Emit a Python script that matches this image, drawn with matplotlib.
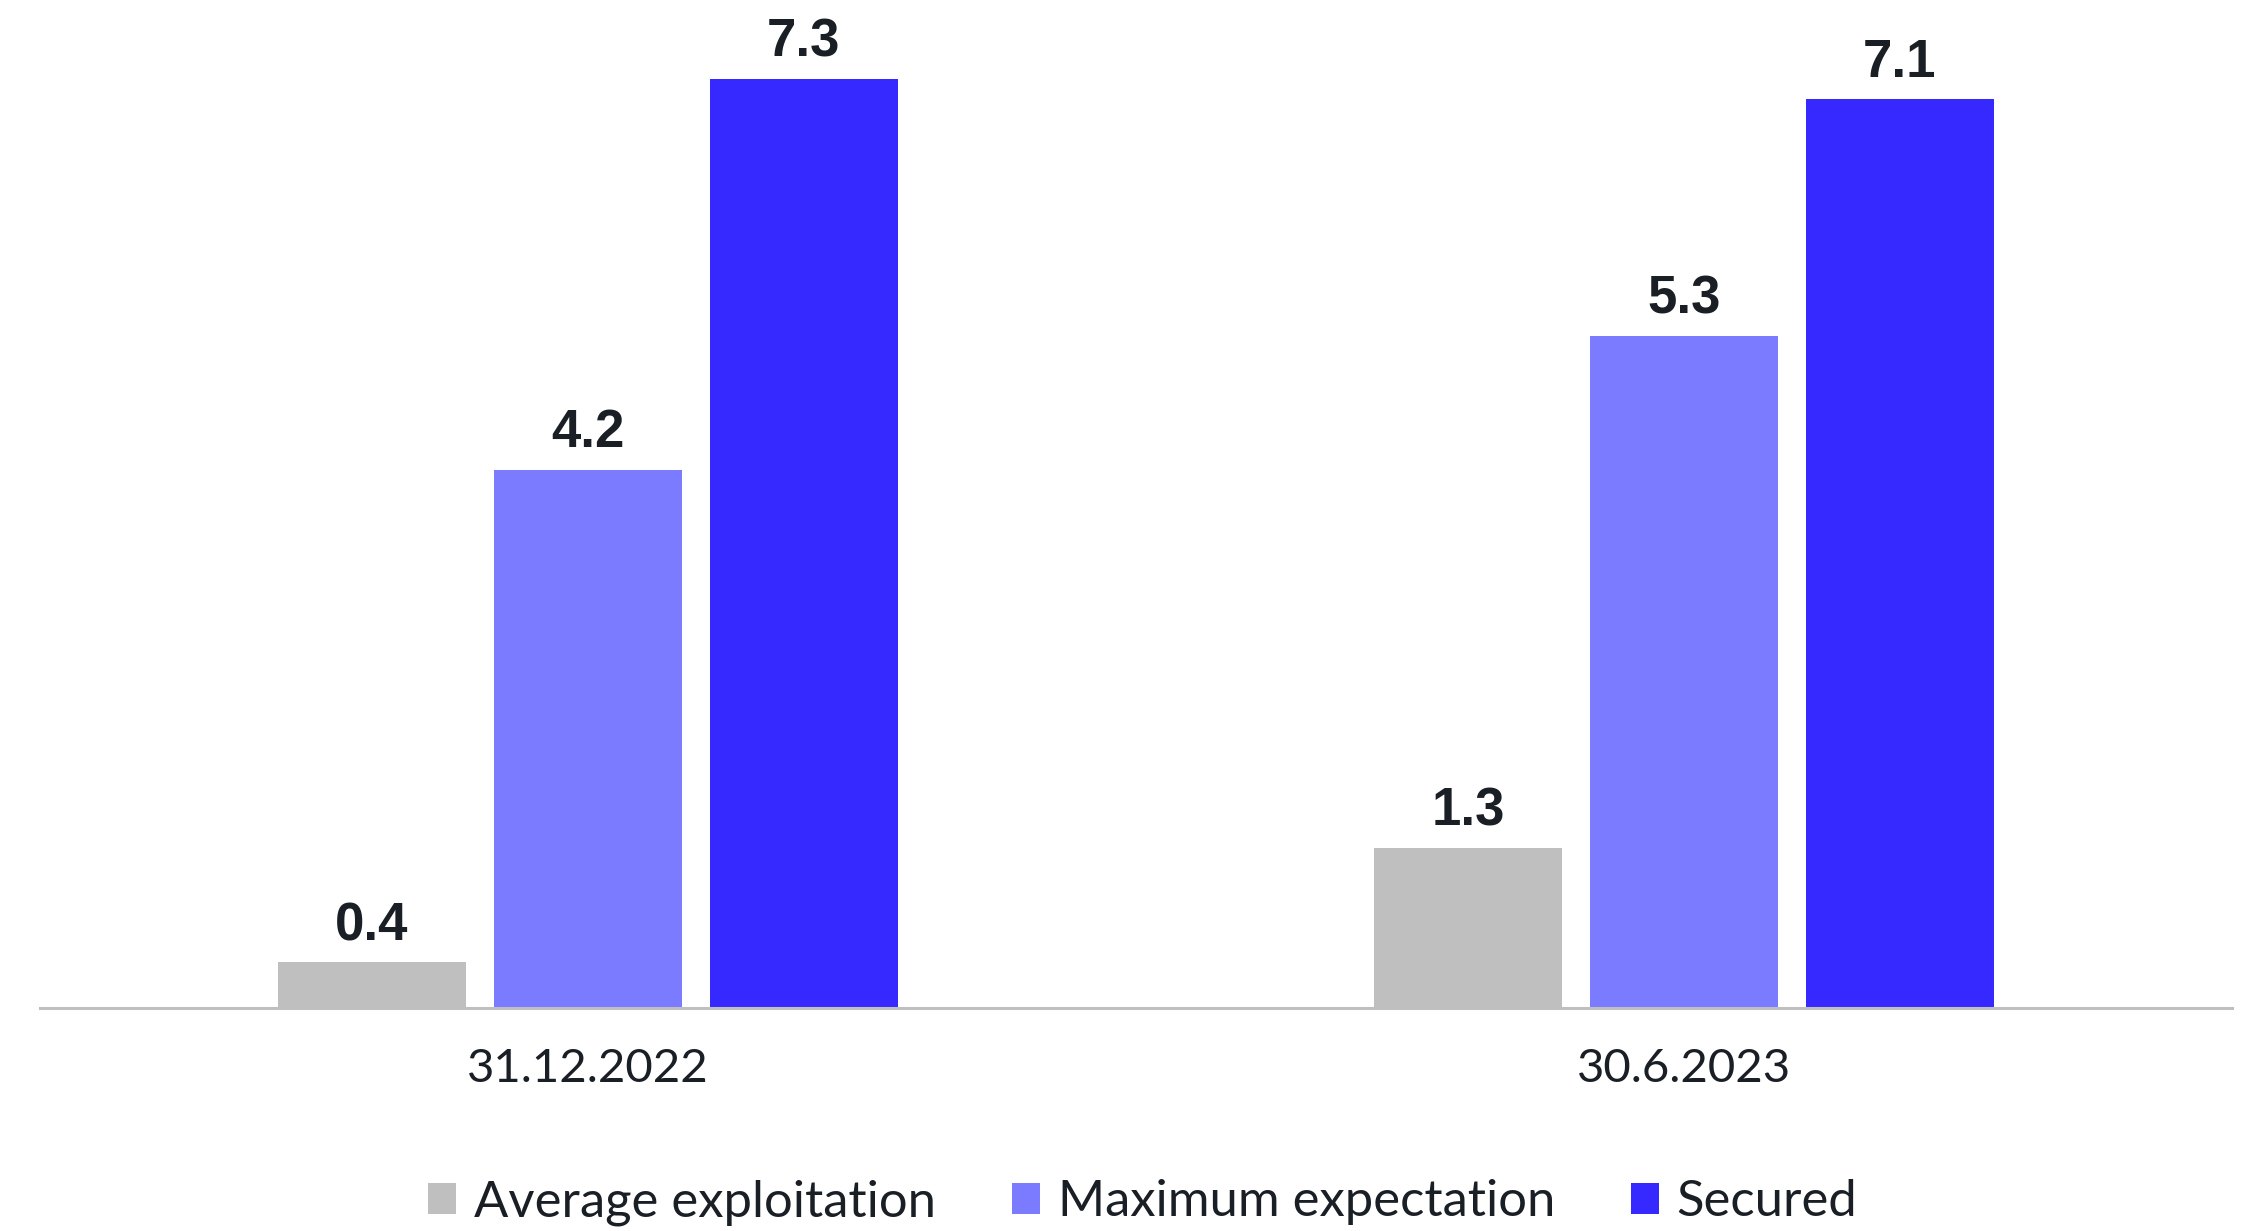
import numpy as np
import matplotlib.pyplot as plt

dates = ['31.12.2022', '30.6.2023']
series = ['Average exploitation', 'Maximum expectation', 'Secured']
# bar heights; labels show them rounded
avg_exploitation = [0.36, 1.26]
max_expectation = [4.23, 5.28]
secured = [7.3, 7.14]
colors = ['#BFBFBF', '#7B7BFF', '#3529FF']

text_color = '#1A1F26'

fig = plt.figure(figsize=(22.54, 12.31), dpi=100)
ax = fig.add_axes([0.0177, 0.181, 0.9725, 0.817])

x = np.arange(len(dates))
width = 0.172
step = 0.197

for i, (name, vals) in enumerate(zip(series, [avg_exploitation, max_expectation, secured])):
    pos = x + (i - 1) * step
    bars = ax.bar(pos, vals, width, color=colors[i], label=name)
    for b, v in zip(bars, vals):
        ax.annotate(f'{v:.1f}', (b.get_x() + b.get_width() / 2, v),
                    xytext=(0, 16), textcoords='offset points',
                    ha='center', va='baseline', fontsize=38,
                    fontweight='bold', family='Liberation Sans',
                    color=text_color)

ax.set_xlim(-0.5, 1.5)
ax.set_ylim(0, 7.9)
ax.set_xticks(x)
ax.set_xticklabels(dates, fontsize=34, family='Lato', color=text_color)
ax.tick_params(axis='x', length=0, pad=29)
ax.set_yticks([])
for s in ['top', 'left', 'right']:
    ax.spines[s].set_visible(False)
ax.spines['bottom'].set_color('#BFBFBF')
ax.spines['bottom'].set_linewidth(2.2)

leg = fig.legend(loc='center', bbox_to_anchor=(0.507, 0.023), ncol=3,
                 frameon=False, prop={'family': 'Lato', 'size': 36.5},
                 handlelength=0.55, handleheight=0.55, handletextpad=0.35,
                 columnspacing=1.5)
for t in leg.get_texts():
    t.set_color(text_color)

fig.savefig('out.png', dpi=100)
